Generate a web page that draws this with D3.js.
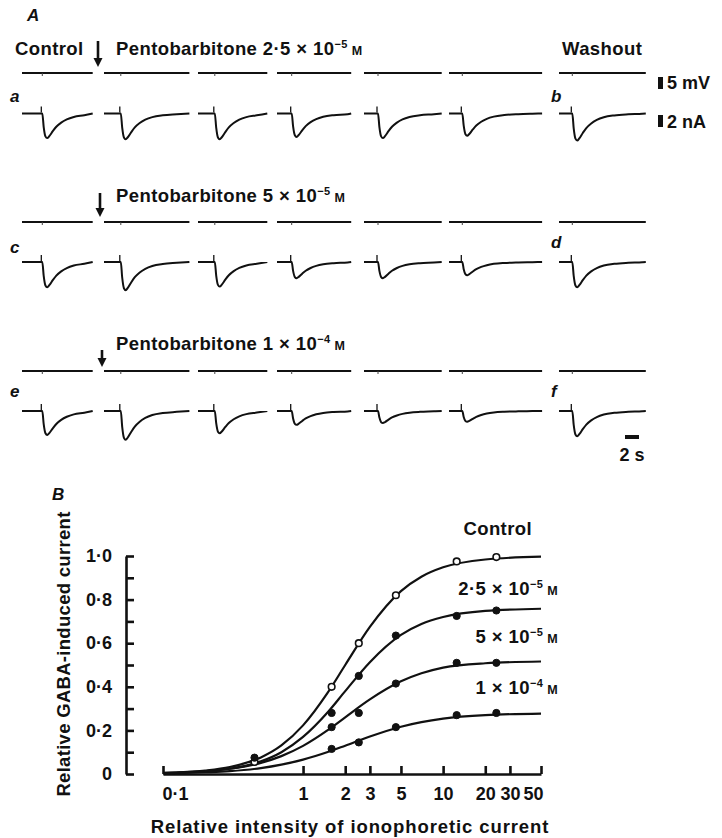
<!DOCTYPE html>
<meta charset="utf-8">
<style>
  body { margin: 0; background: #fff; }
  svg { display: block; }
  text { font-family: "Liberation Sans", Arial, sans-serif; font-weight: bold; fill: #111; }
</style>
<svg width="722" height="838"></svg>
<script src="https://cdn.jsdelivr.net/npm/d3@7/dist/d3.min.js"></script>
<script>
// ---------- panel A data ----------
var rowDrug = ["2·5 × 10", "5 × 10", "1 × 10"];
var rowExp = ["−5", "−5", "−4"];
var rowLetters = [["a", "b"], ["c", "d"], ["e", "f"]];
// peak GABA current of each sweep (nA): control, 5 sweeps in drug, washout
var ampRow1 = [4.1, 4.3, 4.3, 3.9, 4.1, 3.7, 4.5];
var ampRow2 = [4.2, 4.7, 4.1, 2.7, 2.7, 2.2, 4.2];
var ampRow3 = [4.0, 4.8, 3.7, 2.3, 2.0, 1.8, 4.2];
// time before the pulse and length of every sweep (s)
var sweepPre = [2.9, 2.4, 2.4, 2.1, 2.0, 1.9, 1.9];
var sweepDur = [10.1, 12.2, 9.9, 10.6, 11.1, 13.3, 12.4];
// shape of the response: time after pulse (s), fraction of peak
var waveT = [0, 0.2, 0.45, 0.7, 1.0, 1.5, 2.0, 2.7, 3.5, 4.5, 6, 8, 10];
var waveF = [0, 0.55, 0.93, 1.0, 0.92, 0.72, 0.54, 0.37, 0.24, 0.14, 0.07, 0.03, 0.01];

// ---------- panel B data ----------
var doseX = [0.45, 1.6, 2.5, 4.6, 12.5, 24];
var control = [0.055, 0.40, 0.60, 0.82, 0.975, 0.995];
var pento25 = [0.075, 0.28, 0.45, 0.635, 0.725, 0.75];
var pento50 = [null, 0.215, 0.28, 0.415, 0.51, 0.51];
var pento100 = [null, 0.115, 0.145, 0.215, 0.27, 0.28];
var fitX = [0.1, 0.2, 0.3, 0.5, 0.7, 1, 1.5, 2, 3, 5, 7, 10, 20, 50];
var fitControl = [0.005, 0.016, 0.032, 0.076, 0.131, 0.223, 0.373, 0.5, 0.675, 0.839, 0.905, 0.948, 0.984, 0.997];
var fit25 = [0.004, 0.012, 0.024, 0.058, 0.100, 0.170, 0.283, 0.38, 0.513, 0.638, 0.688, 0.72, 0.748, 0.758];
var fit50 = [0.004, 0.013, 0.024, 0.051, 0.082, 0.129, 0.201, 0.26, 0.342, 0.425, 0.462, 0.488, 0.508, 0.516];
var fit100 = [0.003, 0.008, 0.013, 0.027, 0.043, 0.066, 0.101, 0.130, 0.172, 0.217, 0.238, 0.254, 0.270, 0.277];
var xTicks = [0.1, 1, 2, 3, 5, 10, 20, 30, 50];
var xTickLabels = ["0·1", "1", "2", "3", "5", "10", "20", "30", "50"];
var yTicks = [0, 0.1, 0.2, 0.3, 0.4, 0.5, 0.6, 0.7, 0.8, 0.9, 1.0];
var yTickLabels = ["0", "", "0·2", "", "0·4", "", "0·6", "", "0·8", "", "1·0"];
var seriesName = ["Control", "2·5 × 10", "5 × 10", "1 × 10"];
var seriesExp = [null, "−5", "−5", "−4"];

var svg = d3.select("svg");

// ================= panel A =================
var pxPerSec = 7;
var sweepX = [22, 104, 198, 277, 364, 449, 559];
var voltY = [73, 222, 371];
var baseY = [113.5, 262, 411];
var labelY = [55, 202, 350];
var letterY = [[102, 102], [253, 248], [397, 397]];
var arrowX = [98, 100, 102], arrowTop = [41, 193, 350], arrowBot = [67, 217, 367];
var amps = [ampRow1, ampRow2, ampRow3];

svg.append("text").attr("x", 27).attr("y", 21).style("font-style", "italic")
  .style("font-size", "17px").text("A");

var line = d3.line().curve(d3.curveMonotoneX);

rowDrug.forEach(function(drug, r) {
  var g = svg.append("g");
  var yCur = d3.scaleLinear().domain([0, 5]).range([baseY[r], baseY[r] + 30]);

  // header
  var t = g.append("text").attr("x", 116).attr("y", labelY[r])
    .style("font-size", "18.5px").style("letter-spacing", "0.4px");
  t.append("tspan").text("Pentobarbitone " + drug);
  t.append("tspan").attr("dy", -7).style("font-size", "11px").text(rowExp[r]);
  t.append("tspan").attr("dy", 7).style("font-size", "12.5px").text(" M");
  if (r === 0) {
    g.append("text").attr("x", 15).attr("y", labelY[r]).style("font-size", "18.5px")
      .style("letter-spacing", "0.4px").text("Control");
    g.append("text").attr("x", 562).attr("y", labelY[r]).style("font-size", "18.5px")
      .style("letter-spacing", "0.4px").text("Washout");
  }
  // arrow
  g.append("line").attr("x1", arrowX[r]).attr("x2", arrowX[r])
    .attr("y1", arrowTop[r]).attr("y2", arrowBot[r] - 7)
    .attr("stroke", "#111").attr("stroke-width", 2.6);
  g.append("path").attr("d", "M" + (arrowX[r] - 4.5) + "," + (arrowBot[r] - 9) + "L" + (arrowX[r] + 4.5) + "," +
    (arrowBot[r] - 9) + "L" + arrowX[r] + "," + arrowBot[r] + "Z").attr("fill", "#111");

  // letters
  g.append("text").attr("x", 10).attr("y", letterY[r][0]).style("font-style", "italic")
    .style("font-size", "17px").text(rowLetters[r][0]);
  g.append("text").attr("x", 551).attr("y", letterY[r][1]).style("font-style", "italic")
    .style("font-size", "17px").text(rowLetters[r][1]);

  amps[r].forEach(function(amp, i) {
    var xt = d3.scaleLinear().domain([0, sweepDur[i]])
      .range([sweepX[i], sweepX[i] + sweepDur[i] * pxPerSec]);
    // voltage record
    g.append("line").attr("x1", xt(0)).attr("x2", xt(sweepDur[i]))
      .attr("y1", voltY[r]).attr("y2", voltY[r])
      .attr("stroke", "#111").attr("stroke-width", 1.9);
    g.append("line").attr("x1", xt(sweepPre[i])).attr("x2", xt(sweepPre[i]))
      .attr("y1", voltY[r]).attr("y2", voltY[r] + 3)
      .attr("stroke", "#444").attr("stroke-width", 1);
    // current record
    var pts = [[xt(0), yCur(0)], [xt(sweepPre[i]), yCur(0)]];
    waveT.forEach(function(tt, k) {
      if (k === 0) return;
      var tv = sweepPre[i] + tt;
      if (tv < sweepDur[i]) pts.push([xt(tv), yCur(amp * waveF[k])]);
    });
    pts.push([xt(sweepDur[i]), yCur(0)]);
    g.append("path").attr("d", line(pts)).attr("fill", "none")
      .attr("stroke", "#111").attr("stroke-width", 2);
    // pulse artefact
    g.append("line").attr("x1", xt(sweepPre[i]) - 1).attr("x2", xt(sweepPre[i]) - 1)
      .attr("y1", yCur(0) - 1).attr("y2", yCur(0) - 7)
      .attr("stroke", "#111").attr("stroke-width", 1.3);
  });
});

// calibration bars
var calV = d3.scaleLinear().domain([0, 5]).range([89, 77]);
svg.append("rect").attr("x", 658).attr("y", calV(5)).attr("width", 5).attr("height", calV(0) - calV(5)).attr("fill", "#111");
svg.append("text").attr("x", 667).attr("y", 89).style("font-size", "18px").text("5 mV");
var calI = d3.scaleLinear().domain([0, 2]).range([127, 115]);
svg.append("rect").attr("x", 658).attr("y", calI(2)).attr("width", 5).attr("height", calI(0) - calI(2)).attr("fill", "#111");
svg.append("text").attr("x", 667).attr("y", 128).style("font-size", "18px").text("2 nA");
svg.append("rect").attr("x", 625).attr("y", 435).attr("width", 2 * pxPerSec).attr("height", 4).attr("fill", "#111");
svg.append("text").attr("x", 632).attr("y", 461).attr("text-anchor", "middle").style("font-size", "18px").text("2 s");

// ================= panel B =================
var x = d3.scaleLog().domain([0.1, 50]).range([163, 541]);
var y = d3.scaleLinear().domain([0, 1]).range([774, 556]);

svg.append("text").attr("x", 52).attr("y", 500).style("font-style", "italic")
  .style("font-size", "17px").text("B");

var yAxis = svg.append("g").attr("transform", "translate(126,0)")
  .call(d3.axisLeft(y).tickValues(yTicks).tickSizeInner(-8).tickSizeOuter(0).tickPadding(14)
    .tickFormat(function(d, i) { return yTickLabels[i]; }));
var xAxis = svg.append("g").attr("transform", "translate(0,774)")
  .call(d3.axisBottom(x).tickValues(xTicks).tickSizeInner(-8).tickSizeOuter(0).tickPadding(13)
    .tickFormat(function(d, i) { return xTickLabels[i]; }));
[yAxis, xAxis].forEach(function(a) {
  a.selectAll("path, line").attr("stroke", "#111").attr("stroke-width", 2.6);
  a.selectAll("text").attr("fill", "#111").style("font-size", "18px")
    .style("font-family", "'Liberation Sans', Arial, sans-serif").style("font-weight", "bold");
});
xAxis.selectAll(".tick text").attr("dx", function(d) { return d === 0.1 ? 12 : d === 50 ? -8 : 0; });

svg.append("text").attr("transform", "translate(70,654) rotate(-90)").attr("text-anchor", "middle")
  .style("font-size", "18.5px").style("letter-spacing", "0.3px").text("Relative GABA-induced current");
svg.append("text").attr("x", 350).attr("y", 833).attr("text-anchor", "middle")
  .style("font-size", "18.5px").style("letter-spacing", "0.9px").text("Relative intensity of ionophoretic current");

var fits = [fitControl, fit25, fit50, fit100];
var points = [control, pento25, pento50, pento100];
var curve = d3.line().x(function(d) { return x(d[0]); }).y(function(d) { return y(d[1]); })
  .curve(d3.curveMonotoneX);

fits.forEach(function(f) {
  svg.append("path").attr("d", curve(fitX.map(function(v, i) { return [v, f[i]]; })))
    .attr("fill", "none").attr("stroke", "#111").attr("stroke-width", 2.2);
});
points.forEach(function(p, s) {
  svg.append("g").selectAll("circle")
    .data(doseX.map(function(v, i) { return [v, p[i]]; }).filter(function(d) { return d[1] != null; }))
    .join("circle")
    .attr("cx", function(d) { return x(d[0]); }).attr("cy", function(d) { return y(d[1]); })
    .attr("r", s === 0 ? 3.3 : 3.6)
    .attr("fill", s === 0 ? "#fff" : "#111").attr("stroke", "#111").attr("stroke-width", s === 0 ? 1.6 : 1);
});

// curve labels
var labY = [535, 595, 643, 694];
seriesName.forEach(function(n, s) {
  var t = svg.append("text").attr("x", s === 0 ? 532 : 558).attr("y", labY[s])
    .attr("text-anchor", "end").style("font-size", "18.5px").style("letter-spacing", "0.4px");
  t.append("tspan").text(n);
  if (seriesExp[s]) {
    t.append("tspan").attr("dy", -7).style("font-size", "11px").text(seriesExp[s]);
    t.append("tspan").attr("dy", 7).style("font-size", "12.5px").text(" M");
  }
});
</script>
